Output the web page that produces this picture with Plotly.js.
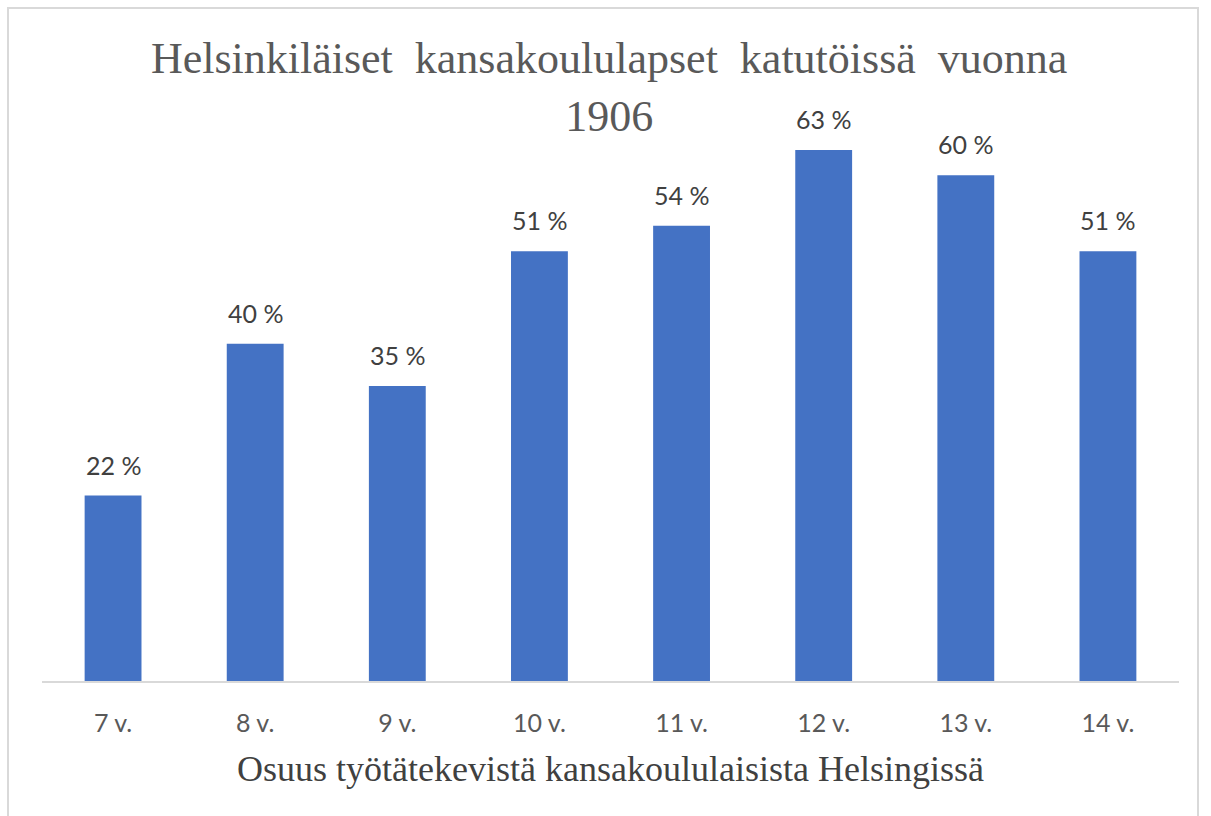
<!DOCTYPE html>
<html>
<head>
<meta charset="utf-8">
<script src="https://cdn.plot.ly/plotly-3.0.1.min.js"></script>
<style>
  html, body { margin: 0; padding: 0; background: #fff; }
  #wrap { position: relative; width: 1211px; height: 816px; }
  #frame { position: absolute; left: 7px; top: 7px; width: 1192px; height: 830px; border: 2px solid #d9d9d9; box-sizing: border-box; pointer-events: none; }
  #chart { position: absolute; left: 0; top: 0; width: 1211px; height: 816px; }
</style>
</head>
<body>
<div id="wrap">
  <div id="chart"></div>
  <div id="frame"></div>
</div>
<script>
const categories = ["7 v.", "8 v.", "9 v.", "10 v.", "11 v.", "12 v.", "13 v.", "14 v."];
const values = [22, 40, 35, 51, 54, 63, 60, 51];
const labels = values.map(v => v + " %");

const trace = {
  type: "bar",
  x: categories,
  y: values,
  width: 0.4,
  marker: { color: "#4472C4" },
  hoverinfo: "x+y"
};

const annotations = categories.map((c, i) => ({
  x: c, y: values[i], xref: "x", yref: "y",
  text: labels[i], showarrow: false,
  yanchor: "bottom", yshift: 14,
  font: { family: "Lato, 'Open Sans', sans-serif", size: 25, color: "#404040" }
}));

const layout = {
  width: 1211, height: 816,
  margin: { l: 42, r: 32, t: 91, b: 135 },
  paper_bgcolor: "#ffffff",
  plot_bgcolor: "#ffffff",
  showlegend: false,
  title: {
    text: "Helsinkiläiset  kansakoululapset  katutöissä  vuonna<br>1906",
    x: 0.503, xanchor: "center",
    y: 0.91, yanchor: "top",
    font: { family: "'Liberation Serif', 'Times New Roman', serif", size: 44, color: "#595959" }
  },
  xaxis: {
    type: "category",
    range: [-0.5, 7.5],
    showline: true, linecolor: "#d9d9d9", linewidth: 2,
    showgrid: false, zeroline: false,
    ticks: "outside", ticklen: 19, tickcolor: "rgba(0,0,0,0)",
    tickfont: { family: "Lato, 'Open Sans', sans-serif", size: 25, color: "#595959" },
    title: {
      text: "Osuus työtätekevistä kansakoululaisista Helsingissä",
      standoff: 20,
      font: { family: "'Liberation Serif', 'Times New Roman', serif", size: 36, color: "#404040" }
    }
  },
  yaxis: {
    range: [0, 70],
    visible: false,
    showgrid: false, zeroline: false
  },
  annotations: annotations
};

Plotly.newPlot("chart", [trace], layout, { displayModeBar: false, staticPlot: true });
</script>
</body>
</html>
